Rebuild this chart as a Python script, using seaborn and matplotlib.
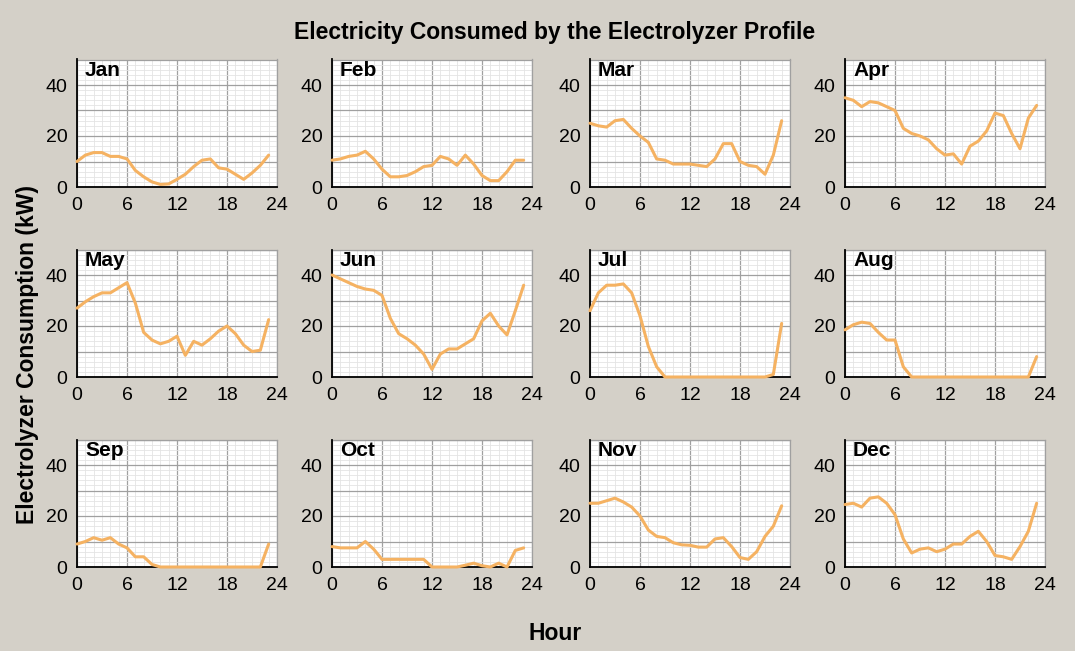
import numpy as np
import pandas as pd
import matplotlib.pyplot as plt
import seaborn as sns
from matplotlib.ticker import MultipleLocator

sns.set_style('white')
plt.rcParams['font.family'] = ['Liberation Sans', 'DejaVu Sans']
plt.rcParams['text.color'] = 'black'

months = ['Jan', 'Feb', 'Mar', 'Apr', 'May', 'Jun',
          'Jul', 'Aug', 'Sep', 'Oct', 'Nov', 'Dec']
hours = list(range(24))

jan = [10, 12.5, 13.5, 13.5, 12, 12, 11, 6.5, 4, 2, 1, 1.2,
       3, 5, 8, 10.5, 11, 7.5, 7, 5, 3, 5.5, 8.5, 12.5]
feb = [10.5, 11, 12, 12.5, 14, 11, 7, 4, 4, 4.5, 6, 8,
       8.5, 12, 11, 8.5, 12.5, 9, 4.5, 2.5, 2.5, 6, 10.5, 10.5]
mar = [25, 24, 23.5, 26, 26.5, 23, 20, 17.5, 11, 10.5, 9, 9,
       9, 8.5, 8, 11, 17, 17, 10, 8.5, 8, 5, 12.5, 26]
apr = [35, 34, 31.5, 33.5, 33, 31.5, 30, 23, 21, 20, 18.5, 15,
       12.5, 13, 9, 16, 18, 22, 29, 28, 21, 15, 27, 32]
may = [27, 29.5, 31.5, 33, 33, 35, 37, 29, 17.5, 14.5, 13, 14,
       16, 8.5, 14, 12.5, 15, 18, 20, 17, 12.5, 10, 10.5, 22.5]
jun = [40, 38.5, 37, 35.5, 34.5, 34, 32, 23, 17, 15, 12.5, 9,
       3, 9, 11, 11, 13, 15, 22, 25, 20, 16.5, 26, 36]
jul = [26, 33, 36, 36, 36.5, 33, 24, 12, 4, 0, 0, 0,
       0, 0, 0, 0, 0, 0, 0, 0, 0, 0, 1, 21]
aug = [18.5, 20.5, 21.5, 21, 17.5, 14.5, 14.5, 4, 0, 0, 0, 0,
       0, 0, 0, 0, 0, 0, 0, 0, 0, 0, 0, 8]
sep = [9, 10, 11.5, 10.5, 11.5, 9, 7.5, 4, 4, 1, 0, 0,
       0, 0, 0, 0, 0, 0, 0, 0, 0, 0, 0, 9]
oct_ = [8, 7.5, 7.5, 7.5, 10, 7, 3, 3, 3, 3, 3, 3,
        0, 0, 0, 0, 0.7, 1.5, 0.5, 0, 1.5, 0, 6.5, 7.5]
nov = [25, 25, 26, 27, 25.5, 23.5, 20, 14.5, 12, 11.5, 9.5, 8.7,
       8.5, 7.8, 7.8, 11, 11.5, 8, 3.7, 3, 6, 12, 16, 24]
dec = [24.5, 25, 23.5, 27, 27.5, 25, 20.5, 11, 5.5, 7, 7.5, 6,
       7, 9, 9, 12, 14, 10, 4.5, 4, 3, 8, 14, 25]

series = [jan, feb, mar, apr, may, jun, jul, aug, sep, oct_, nov, dec]
df = pd.DataFrame({
    'month': np.repeat(months, 24),
    'hour': hours * 12,
    'kw': np.concatenate(series),
})

bg = '#D4D0C8'
line_col = '#F5B262'

fig = plt.figure(figsize=(10.75, 6.51), dpi=100, facecolor=bg)
W, H = 1075, 651
lefts = [77, 332, 590, 845]
bottoms = [187, 377, 567]
aw, ah = 200, 127.5

for i, m in enumerate(months):
    r, c = divmod(i, 4)
    ax = fig.add_axes([lefts[c] / W, 1 - bottoms[r] / H, aw / W, ah / H])
    ax.set_facecolor('white')
    sns.lineplot(data=df[df['month'] == m], x='hour', y='kw', ax=ax,
                 color=line_col, linewidth=2.2, zorder=5, clip_on=False)
    ax.set_xlim(0, 24)
    ax.set_ylim(0, 50)
    ax.set_xticks([0, 6, 12, 18, 24])
    ax.xaxis.set_minor_locator(MultipleLocator(1))
    ax.set_yticks([0, 10, 20, 30, 40, 50])
    ax.set_yticklabels(['0', '', '20', '', '40', ''])
    ax.yaxis.set_minor_locator(MultipleLocator(2))
    ax.grid(which='minor', color='#E4E4E4', linewidth=0.6)
    ax.grid(which='major', color='#A0A0A0', linewidth=0.9)
    ax.set_axisbelow(True)
    ax.tick_params(which='major', direction='out', length=5, width=1,
                   labelsize=14, pad=2, colors='black')
    ax.tick_params(which='minor', direction='in', length=3, width=0.8,
                   colors='black')
    for s in ['top', 'right']:
        ax.spines[s].set_color('#A0A0A0')
        ax.spines[s].set_linewidth(0.9)
    for s in ['left', 'bottom']:
        ax.spines[s].set_color('black')
        ax.spines[s].set_linewidth(1.3)
        ax.spines[s].set_zorder(4)
    ax.set_xlabel('')
    ax.set_ylabel('')
    ax.text(0.04, 0.985, m, transform=ax.transAxes, ha='left', va='top',
            fontsize=15, fontweight='bold', color='black')

cx = 555 / W
fig.text(cx, 1 - 33 / H, 'Electricity Consumed by the Electrolyzer Profile',
         ha='center', va='center', fontsize=16.5, fontweight='bold')
fig.text(28 / W, 1 - 354 / H, 'Electrolyzer Consumption (kW)', rotation=90,
         ha='center', va='center', fontsize=16.5, fontweight='bold')
fig.text(cx, 1 - 634 / H, 'Hour', ha='center', va='center',
         fontsize=16.5, fontweight='bold')

fig.savefig('out.png', dpi=100, facecolor=bg)
